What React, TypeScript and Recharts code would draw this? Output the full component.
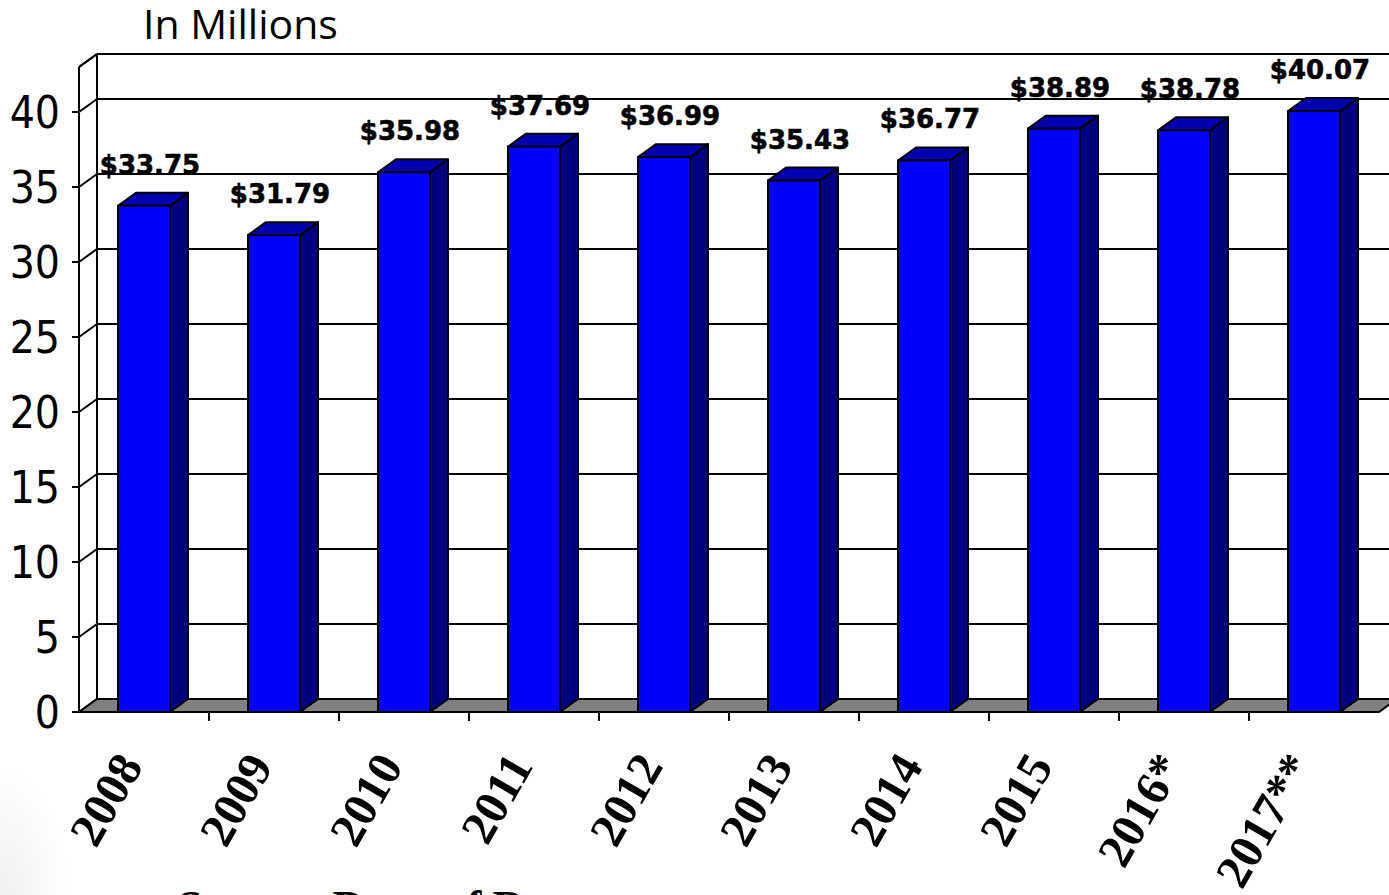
import React from "react";
import {
  BarChart,
  Bar,
  XAxis,
  YAxis,
  CartesianGrid,
  ReferenceArea,
  LabelList,
} from "recharts";

const years = ["2008", "2009", "2010", "2011", "2012", "2013", "2014", "2015", "2016*", "2017**"];
const revenue = [33.75, 31.79, 35.98, 37.69, 36.99, 35.43, 36.77, 38.89, 38.78, 40.07];
const yTicks = [0, 5, 10, 15, 20, 25, 30, 35, 40];
const yMax = 43;

const chartData = years.map((year, i) => ({ year, revenue: revenue[i] }));

const W = 1389;
const H = 895;
const MARGIN = { top: 67, right: 10, bottom: 123, left: 0 };
const X_AXIS_H = 60;
const HALF_BAND = (W - 79 - MARGIN.right) / years.length / 2;

// depth of the fake 3d box
const DX = 18;
const DY = 13;

const gridLine = (p: any) => (
  <g key={p.key}>
    <line x1={p.x1} y1={p.y1} x2={p.x1 + DX} y2={p.y1 - DY} stroke="#000" strokeWidth={2} />
    <line x1={p.x1 + DX} y1={p.y1 - DY} x2={p.x2 + DX} y2={p.y2 - DY} stroke="#000" strokeWidth={2} />
  </g>
);

// back wall frame + grey floor
const Walls = (p: any) => {
  const { x, y, width, height } = p;
  const b = y + height;
  const r = x + width;
  return (
    <g>
      <line x1={x} y1={y} x2={x + DX} y2={y - DY} stroke="#000" strokeWidth={2} />
      <line x1={x + DX} y1={y - DY} x2={r + DX} y2={y - DY} stroke="#000" strokeWidth={2} />
      <line x1={x + DX} y1={y - DY} x2={x + DX} y2={b - DY} stroke="#000" strokeWidth={2} />
      <polygon
        points={`${x},${b} ${r},${b} ${r + DX},${b - DY} ${x + DX},${b - DY}`}
        fill="#808080"
        stroke="#000"
        strokeWidth={2}
        strokeLinejoin="round"
      />
    </g>
  );
};

const Bar3D = (p: any) => {
  const { x, y, width: w, height: h } = p;
  const b = y + h;
  return (
    <g>
      <polygon
        points={`${x + w},${y} ${x + w + DX},${y - DY} ${x + w + DX},${b - DY} ${x + w},${b}`}
        fill="#000080"
        stroke="#000"
        strokeWidth={2}
        strokeLinejoin="round"
      />
      <polygon
        points={`${x},${y} ${x + DX},${y - DY} ${x + w + DX},${y - DY} ${x + w},${y}`}
        fill="#0000B0"
        stroke="#000"
        strokeWidth={2}
        strokeLinejoin="round"
      />
      <rect x={x} y={y} width={w} height={h} fill="#0000FF" stroke="#000" strokeWidth={2} />
    </g>
  );
};

const valueLabel = (p: any) => (
  <text
    x={p.x + p.width / 2 + 6}
    y={p.y - 32}
    textAnchor="middle"
    fontFamily="'DejaVu Sans', Verdana, sans-serif"
    fontWeight="bold"
    fontSize={26}
    fill="#000"
    stroke="#000"
    strokeWidth={0.6}
  >
    {`$${Number(p.value).toFixed(2)}`}
  </text>
);

const YearTick = (p: any) => {
  const { x, y, payload, index } = p;
  const ty = y + 54;
  return (
    <g>
      {index > 0 && (
        <line x1={x - HALF_BAND} y1={y} x2={x - HALF_BAND} y2={y + 9} stroke="#000" strokeWidth={2} />
      )}
      <text
        x={x}
        y={ty}
        transform={`rotate(-60, ${x}, ${ty})`}
        textAnchor="end"
        fontFamily="'Liberation Serif', 'Times New Roman', serif"
        fontWeight="bold"
        fontSize={48}
        fill="#000"
      >
        {payload.value}
      </text>
    </g>
  );
};

export default function App() {
  return (
    <div
      style={{
        position: "absolute",
        left: 0,
        top: 0,
        width: W,
        height: H,
        overflow: "hidden",
        background:
          "radial-gradient(ellipse 70px 130px at 0px 895px, rgba(0,0,0,0.06), rgba(0,0,0,0))",
      }}
    >
      <BarChart width={W} height={H} data={chartData} margin={MARGIN} barSize={52}>
        <CartesianGrid vertical={false} horizontal={gridLine} />
        <ReferenceArea y1={0} y2={yMax} shape={Walls} fill="none" />
        <XAxis
          dataKey="year"
          height={X_AXIS_H}
          axisLine={false}
          tickLine={false}
          tickSize={0}
          tickMargin={0}
          interval={0}
          tick={YearTick}
        />
        <YAxis
          width={79}
          domain={[0, yMax]}
          ticks={yTicks}
          interval={0}
          axisLine={{ stroke: "#000", strokeWidth: 2 }}
          tickLine={{ stroke: "#000", strokeWidth: 2 }}
          tickSize={7}
          tickMargin={12}
          tick={{
            fill: "#000",
            fontSize: 44,
            fontFamily: "'DejaVu Sans Condensed', Tahoma, sans-serif",
          }}
        />
        <Bar dataKey="revenue" shape={Bar3D} isAnimationActive={false}>
          <LabelList dataKey="revenue" content={valueLabel} />
        </Bar>
      </BarChart>
      <div
        style={{
          position: "absolute",
          left: 143,
          top: 3,
          zIndex: 2,
          fontFamily: "'Open Sans', sans-serif",
          fontSize: 41,
          lineHeight: "41px",
          whiteSpace: "nowrap",
          color: "#000",
        }}
      >
        In Millions
      </div>
      <div
        style={{
          position: "absolute",
          left: 178,
          top: 885,
          zIndex: 2,
          fontFamily: "'Liberation Serif', 'Times New Roman', serif",
          fontWeight: "bold",
          fontSize: 44,
          lineHeight: "44px",
          whiteSpace: "nowrap",
          color: "#000",
        }}
      >
        Source: Dept. of Revenue
      </div>
    </div>
  );
}
